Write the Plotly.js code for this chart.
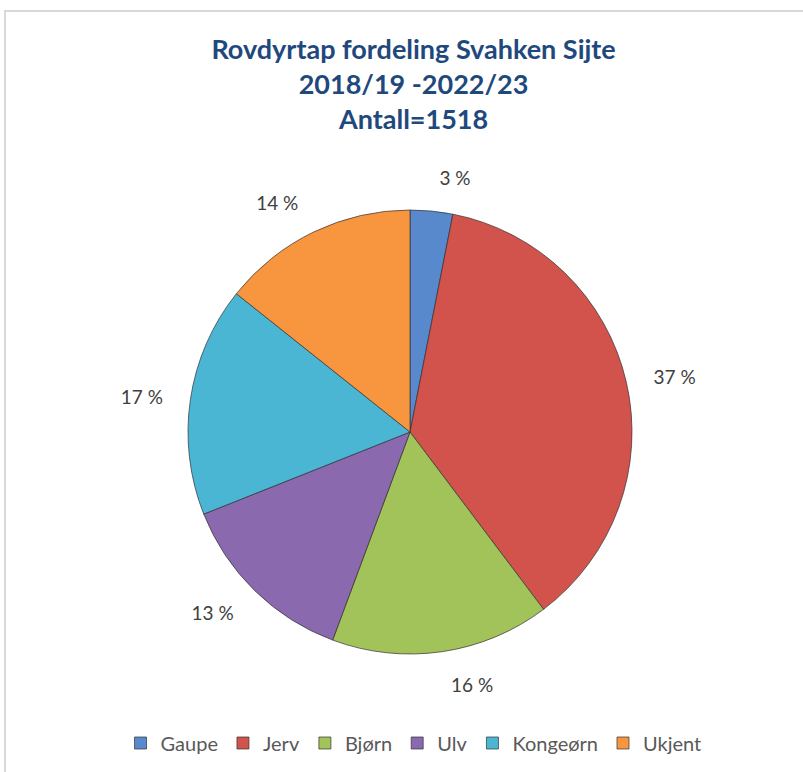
<!DOCTYPE html>
<html>
<head>
<meta charset="utf-8">
<script src="https://cdn.plot.ly/plotly-3.0.1.min.js"></script>
<style>
  html, body { margin: 0; padding: 0; background: #ffffff; }
  #wrap { position: relative; width: 803px; height: 772px; overflow: hidden; }
  #frame { position: absolute; left: 4px; top: 10px; width: 820px; height: 800px;
           border-left: 2px solid #d9d9d9; border-top: 2px solid #d9d9d9; box-sizing: border-box; pointer-events: none; }
  #chart { position: absolute; left: 0; top: 0; width: 803px; height: 772px; }
</style>
</head>
<body>
<div id="wrap">
  <div id="chart"></div>
  <div id="frame"></div>
</div>
<script>
const categories = ["Gaupe", "Jerv", "Bjørn", "Ulv", "Kongeørn", "Ukjent"];
const counts = [47, 556, 242, 202, 254, 217];
const colors = ["#5889CC", "#D2524C", "#A1C35A", "#8A69AE", "#4AB6D3", "#F8953F"];
const titleLines = ["Rovdyrtap fordeling Svahken Sijte", "2018/19 -2022/23", "Antall=1518"];

const total = counts.reduce((a, b) => a + b, 0);
const pctLabels = counts.map(v => Math.round(v / total * 100) + " %");

const W = 803, H = 772;
const cx = 410, cy = 432, r = 222;
const rLab = 244;

function dom(rad) {
  return { x: [(cx - rad) / W, (cx + rad) / W], y: [1 - (cy + rad) / H, 1 - (cy - rad) / H] };
}

const pieMain = {
  type: "pie",
  labels: categories,
  values: counts,
  textinfo: "none",
  sort: false,
  direction: "clockwise",
  rotation: 0,
  marker: { colors: colors, line: { color: "rgba(50,50,50,0.7)", width: 1 } },
  domain: dom(r),
  automargin: false,
  showlegend: true
};

const pieLabels = {
  type: "pie",
  labels: categories,
  values: counts,
  text: pctLabels,
  texttemplate: "%{text}",
  textinfo: "text",
  textposition: "outside",
  outsidetextfont: { family: "Lato, 'Open Sans', sans-serif", size: 19, color: "#404040" },
  sort: false,
  direction: "clockwise",
  rotation: 0,
  marker: { colors: colors.map(() => "rgba(0,0,0,0)"), line: { width: 0 } },
  domain: dom(rLab),
  automargin: false,
  showlegend: false,
  hoverinfo: "skip"
};

const layout = {
  width: W, height: H,
  margin: { l: 0, r: 0, t: 0, b: 0 },
  paper_bgcolor: "#ffffff",
  title: {
    text: "<b>" + titleLines.join("<br>") + "</b>",
    font: { family: "Lato, 'Open Sans', sans-serif", size: 27, color: "#1F497D" },
    x: 0.515, xanchor: "center",
    y: 1 - 59 / H, yanchor: "top", yref: "container"
  },
  showlegend: true,
  legend: {
    orientation: "h",
    x: 0.515, xanchor: "center",
    y: 1 - 743 / H, yanchor: "middle",
    font: { family: "Lato, 'Open Sans', sans-serif", size: 20, color: "#595959" },
    traceorder: "normal"
  }
};

Plotly.newPlot("chart", [pieLabels, pieMain], layout, { displayModeBar: false, staticPlot: true });
</script>
</body>
</html>
